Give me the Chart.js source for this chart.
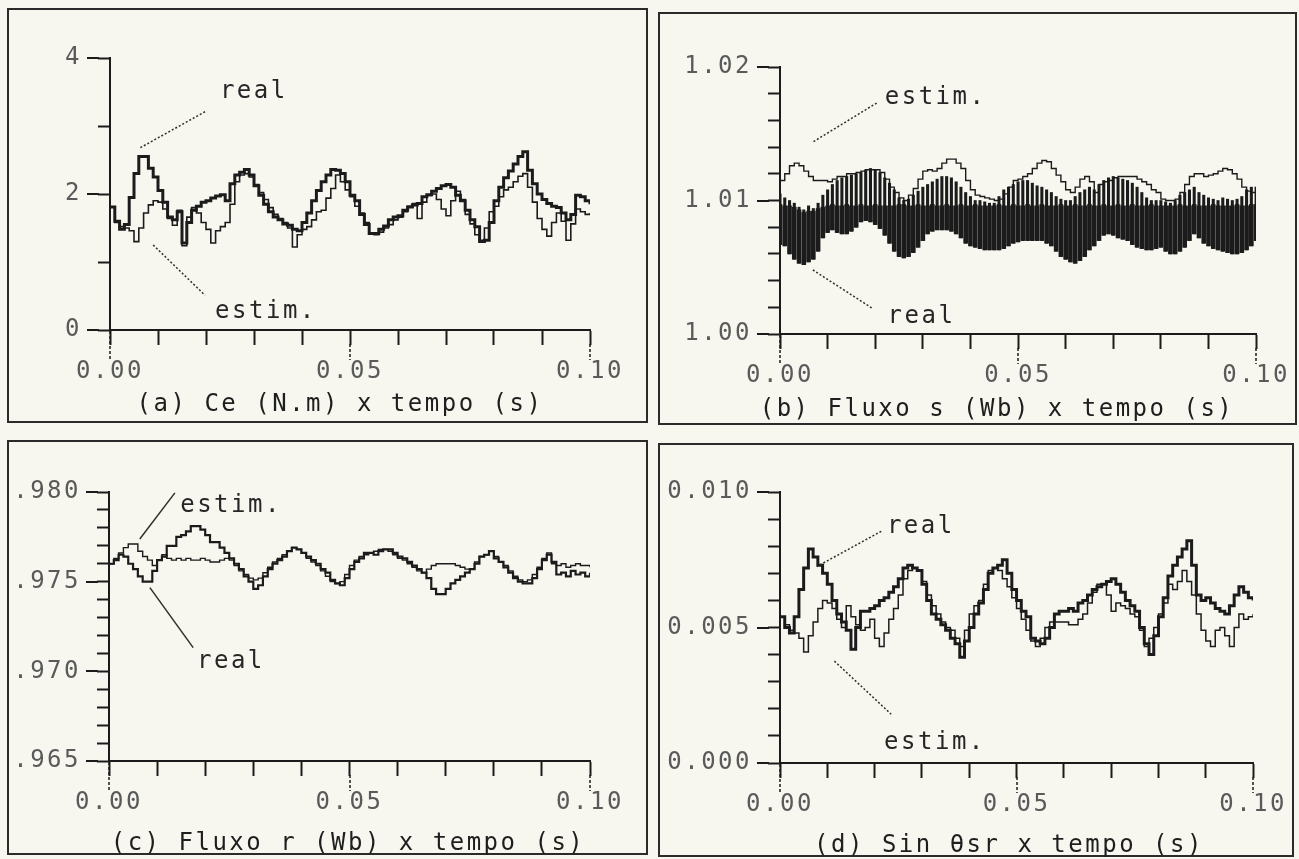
<!DOCTYPE html>
<html lang="pt">
<head>
<meta charset="utf-8">
<title>Ce, Fluxo s, Fluxo r e Sin θsr x tempo</title>
<script src="https://cdn.jsdelivr.net/npm/chart.js@4.4.1/dist/chart.umd.min.js"></script>
<style>
  html, body { margin: 0; padding: 0; }
  body { width: 1299px; height: 859px; background: #f7f7f0; position: relative; overflow: hidden; }
  .moldura { position: absolute; box-sizing: border-box; border: 2px solid #2b2b2b; }
  canvas { position: absolute; }
  .legenda { position: absolute; width: 640px; margin-left: -320px; text-align: center;
             font: 24px 'DejaVu Sans Mono', 'Liberation Mono', monospace; letter-spacing: 2.5px;
             color: #1e1e1e; white-space: pre; line-height: 28px; }
</style>
</head>
<body>
<div class="moldura" style="left:7px;top:8px;width:641px;height:415px"></div>
<div class="moldura" style="left:658px;top:12px;width:639px;height:413px"></div>
<div class="moldura" style="left:7px;top:440px;width:641px;height:415px"></div>
<div class="moldura" style="left:658px;top:443px;width:636px;height:414px"></div>

<canvas id="gCe" width="641" height="415" style="left:7px;top:8px"></canvas>
<canvas id="gFluxoS" width="639" height="413" style="left:658px;top:12px"></canvas>
<canvas id="gFluxoR" width="641" height="415" style="left:7px;top:440px"></canvas>
<canvas id="gSeno" width="636" height="414" style="left:658px;top:443px"></canvas>

<div class="legenda" style="left:340px;top:389px">(a) Ce (N.m) x tempo (s)</div>
<div class="legenda" style="left:997px;top:394px">(b) Fluxo s (Wb) x tempo (s)</div>
<div class="legenda" style="left:348px;top:828px">(c) Fluxo r (Wb) x tempo (s)</div>
<div class="legenda" style="left:1009px;top:830px">(d) Sin θsr x tempo (s)</div>

<script>
// ---- tempo (ms), one sample per millisecond ----
const tempoMs = [0,1,2,3,4,5,6,7,8,9,10,11,12,13,14,15,16,17,18,19,20,21,22,23,24,25,26,27,28,29,
  30,31,32,33,34,35,36,37,38,39,40,41,42,43,44,45,46,47,48,49,50,51,52,53,54,55,56,57,58,59,
  60,61,62,63,64,65,66,67,68,69,70,71,72,73,74,75,76,77,78,79,80,81,82,83,84,85,86,87,88,89,
  90,91,92,93,94,95,96,97,98,99,100];

// ---- (a) Ce (N.m) ----
const ceReal = [1.81,1.60,1.48,1.55,1.95,2.30,2.55,2.55,2.38,2.25,
  2.05,1.88,1.66,1.62,1.74,1.28,1.58,1.76,1.82,1.88,
  1.90,1.94,1.97,1.99,1.90,2.15,2.28,2.32,2.36,2.28,
  2.12,1.98,1.85,1.74,1.66,1.62,1.56,1.54,1.48,1.46,
  1.58,1.72,1.90,2.05,2.18,2.28,2.36,2.35,2.30,2.18,
  1.98,1.90,1.70,1.55,1.42,1.42,1.48,1.53,1.62,1.66,
  1.68,1.76,1.81,1.84,1.86,1.96,1.99,2.04,2.08,2.12,
  2.14,2.10,1.98,1.90,1.76,1.62,1.52,1.30,1.32,1.58,
  1.90,2.10,2.24,2.34,2.44,2.55,2.62,2.35,2.15,2.00,
  1.92,1.86,1.82,1.80,1.72,1.62,1.70,1.98,1.96,1.90,
  1.85];
const ceEstim = [1.81,1.58,1.52,1.50,1.46,1.30,1.50,1.72,1.84,1.90,
  1.88,1.78,1.64,1.54,1.76,1.24,1.66,1.80,1.72,1.58,
  1.48,1.28,1.46,1.52,1.58,1.85,2.18,2.28,2.30,2.25,
  2.14,2.02,1.92,1.80,1.70,1.64,1.58,1.50,1.22,1.40,
  1.48,1.52,1.62,1.74,1.76,1.94,2.08,2.28,2.18,2.06,
  1.96,1.82,1.72,1.58,1.42,1.40,1.44,1.50,1.55,1.62,
  1.66,1.74,1.82,1.86,1.64,1.88,1.98,2.00,1.92,1.78,
  1.68,1.90,2.04,1.92,1.70,1.56,1.40,1.32,1.50,1.74,
  1.82,1.96,2.06,2.10,2.18,2.26,2.30,2.10,1.88,1.64,
  1.48,1.38,1.58,1.72,1.60,1.32,1.56,1.78,1.74,1.70,
  1.72];
const ceTickVals = [0, 2, 4];
const ceTickTxt = ['0', '2', '4'];

// ---- (b) Fluxo s (Wb) ----
const fluxoSEstim = [1.0115,1.0120,1.0126,1.0128,1.0126,1.0122,1.0118,1.0115,1.0115,1.0115,
  1.0114,1.0116,1.0118,1.0118,1.0120,1.0120,1.0121,1.0122,1.0123,1.0123,
  1.0123,1.0121,1.0116,1.0110,1.0106,1.0102,1.0100,1.0104,1.0109,1.0116,
  1.0122,1.0123,1.0122,1.0124,1.0128,1.0131,1.0131,1.0128,1.0124,1.0115,
  1.0108,1.0104,1.0103,1.0102,1.0101,1.0100,1.0101,1.0105,1.0110,1.0115,
  1.0116,1.0118,1.0120,1.0124,1.0128,1.0130,1.0129,1.0124,1.0119,1.0114,
  1.0108,1.0106,1.0110,1.0116,1.0118,1.0114,1.0106,1.0112,1.0114,1.0115,
  1.0117,1.0118,1.0118,1.0118,1.0118,1.0116,1.0114,1.0112,1.0108,1.0106,
  1.0101,1.0100,1.0100,1.0101,1.0106,1.0112,1.0118,1.0120,1.0120,1.0118,
  1.0119,1.0120,1.0122,1.0124,1.0123,1.0120,1.0116,1.0110,1.0107,1.0106,
  1.0110];
// the real flux ripples fast: upper and lower edges of its band, and the top of its dense core
const fluxoSRealSup = [1.0105,1.0102,1.0100,1.0098,1.0095,1.0093,1.0096,1.0094,1.0098,1.0104,
  1.0108,1.0112,1.0115,1.0117,1.0118,1.0119,1.0120,1.0121,1.0123,1.0124,
  1.0123,1.0121,1.0117,1.0113,1.0108,1.0102,1.0100,1.0101,1.0104,1.0107,
  1.0110,1.0112,1.0114,1.0116,1.0118,1.0118,1.0117,1.0114,1.0110,1.0106,
  1.0103,1.0100,1.0100,1.0099,1.0098,1.0098,1.0103,1.0108,1.0110,1.0112,
  1.0114,1.0115,1.0115,1.0113,1.0111,1.0110,1.0108,1.0106,1.0103,1.0101,
  1.0100,1.0100,1.0103,1.0106,1.0108,1.0110,1.0108,1.0112,1.0115,1.0117,
  1.0118,1.0117,1.0116,1.0115,1.0113,1.0110,1.0106,1.0102,1.0100,1.0100,
  1.0100,1.0099,1.0098,1.0100,1.0104,1.0106,1.0108,1.0110,1.0106,1.0104,
  1.0102,1.0101,1.0100,1.0102,1.0101,1.0100,1.0101,1.0103,1.0108,1.0110,
  1.0110];
const fluxoSRealInf = [1.0067,1.0066,1.0060,1.0056,1.0053,1.0052,1.0054,1.0056,1.0062,1.0072,
  1.0076,1.0078,1.0076,1.0075,1.0075,1.0077,1.0080,1.0084,1.0085,1.0084,
  1.0082,1.0079,1.0074,1.0068,1.0062,1.0058,1.0057,1.0058,1.0061,1.0065,
  1.0070,1.0075,1.0077,1.0078,1.0078,1.0078,1.0077,1.0075,1.0072,1.0068,
  1.0066,1.0065,1.0064,1.0063,1.0063,1.0063,1.0063,1.0064,1.0066,1.0068,
  1.0069,1.0070,1.0070,1.0070,1.0070,1.0070,1.0068,1.0066,1.0062,1.0058,
  1.0056,1.0054,1.0053,1.0055,1.0058,1.0063,1.0066,1.0070,1.0074,1.0075,
  1.0074,1.0072,1.0071,1.0070,1.0067,1.0065,1.0064,1.0063,1.0063,1.0064,
  1.0065,1.0062,1.0060,1.0060,1.0062,1.0065,1.0070,1.0075,1.0072,1.0068,
  1.0066,1.0064,1.0063,1.0062,1.0061,1.0060,1.0060,1.0061,1.0063,1.0066,
  1.0070];
const fluxoSRealNucleo = [1.0097,1.0096,1.0096,1.0095,1.0093,1.0091,1.0092,1.0092,1.0094,1.0095,
  1.0096,1.0097,1.0096,1.0096,1.0097,1.0096,1.0096,1.0097,1.0096,1.0096,
  1.0097,1.0096,1.0096,1.0096,1.0096,1.0097,1.0097,1.0096,1.0096,1.0097,
  1.0096,1.0096,1.0097,1.0096,1.0096,1.0097,1.0096,1.0096,1.0097,1.0096,
  1.0096,1.0097,1.0096,1.0096,1.0096,1.0096,1.0097,1.0096,1.0096,1.0097,
  1.0096,1.0096,1.0097,1.0096,1.0096,1.0097,1.0096,1.0096,1.0096,1.0097,
  1.0096,1.0096,1.0097,1.0096,1.0096,1.0097,1.0096,1.0096,1.0097,1.0096,
  1.0096,1.0097,1.0096,1.0096,1.0097,1.0096,1.0096,1.0096,1.0097,1.0096,
  1.0096,1.0096,1.0096,1.0096,1.0097,1.0096,1.0096,1.0097,1.0096,1.0096,
  1.0096,1.0097,1.0096,1.0096,1.0096,1.0096,1.0097,1.0096,1.0096,1.0097,
  1.0097];
const fluxoSTickVals = [1.00, 1.01, 1.02];
const fluxoSTickTxt = ['1.00', '1.01', '1.02'];

// ---- (c) Fluxo r (Wb) ----
const fluxoRReal = [0.9760,0.9762,0.9765,0.9764,0.9760,0.9757,0.9753,0.9750,0.9750,0.9756,
  0.9762,0.9764,0.9770,0.9770,0.9775,0.9776,0.9778,0.9781,0.9781,0.9779,
  0.9776,0.9772,0.9772,0.9769,0.9766,0.9763,0.9760,0.9757,0.9753,0.9750,
  0.9746,0.9748,0.9753,0.9757,0.9760,0.9762,0.9764,0.9767,0.9769,0.9768,
  0.9766,0.9764,0.9762,0.9760,0.9757,0.9755,0.9751,0.9749,0.9748,0.9752,
  0.9757,0.9761,0.9763,0.9766,0.9766,0.9765,0.9767,0.9768,0.9768,0.9766,
  0.9764,0.9763,0.9761,0.9759,0.9757,0.9755,0.9752,0.9746,0.9743,0.9743,
  0.9746,0.9749,0.9751,0.9753,0.9755,0.9757,0.9760,0.9764,0.9765,0.9767,
  0.9763,0.9761,0.9758,0.9755,0.9752,0.9750,0.9749,0.9749,0.9752,0.9757,
  0.9762,0.9765,0.9761,0.9754,0.9755,0.9753,0.9756,0.9754,0.9755,0.9753,
  0.9755];
const fluxoREstim = [0.9760,0.9763,0.9766,0.9769,0.9771,0.9771,0.9767,0.9764,0.9762,0.9759,
  0.9762,0.9765,0.9763,0.9762,0.9763,0.9762,0.9763,0.9762,0.9762,0.9763,
  0.9762,0.9761,0.9761,0.9762,0.9763,0.9762,0.9759,0.9756,0.9754,0.9752,
  0.9751,0.9752,0.9755,0.9758,0.9761,0.9763,0.9765,0.9767,0.9769,0.9768,
  0.9766,0.9763,0.9761,0.9759,0.9756,0.9753,0.9750,0.9749,0.9750,0.9754,
  0.9759,0.9762,0.9764,0.9765,0.9766,0.9767,0.9768,0.9768,0.9767,0.9765,
  0.9763,0.9762,0.9760,0.9758,0.9756,0.9755,0.9757,0.9759,0.9760,0.9760,
  0.9760,0.9760,0.9759,0.9758,0.9757,0.9757,0.9761,0.9764,0.9765,0.9767,
  0.9764,0.9761,0.9759,0.9756,0.9753,0.9751,0.9750,0.9751,0.9754,0.9758,
  0.9763,0.9766,0.9760,0.9759,0.9760,0.9758,0.9759,0.9760,0.9759,0.9759,
  0.9758];
const fluxoRTickVals = [0.965, 0.970, 0.975, 0.980];
const fluxoRTickTxt = ['.965', '.970', '.975', '.980'];

// ---- (d) Sin θsr ----
const senoReal = [0.0054,0.0050,0.0048,0.0054,0.0064,0.0072,0.0079,0.0076,0.0073,0.0070,
  0.0066,0.0060,0.0055,0.0052,0.0049,0.0042,0.0050,0.0056,0.0056,0.0057,
  0.0058,0.0060,0.0061,0.0063,0.0065,0.0068,0.0072,0.0073,0.0072,0.0071,
  0.0066,0.0060,0.0055,0.0053,0.0051,0.0049,0.0046,0.0044,0.0039,0.0045,
  0.0050,0.0055,0.0059,0.0064,0.0070,0.0072,0.0073,0.0075,0.0070,0.0064,
  0.0060,0.0056,0.0054,0.0046,0.0045,0.0044,0.0046,0.0050,0.0055,0.0056,
  0.0056,0.0057,0.0056,0.0059,0.0060,0.0062,0.0064,0.0065,0.0066,0.0067,
  0.0068,0.0066,0.0063,0.0060,0.0058,0.0056,0.0050,0.0044,0.0040,0.0047,
  0.0054,0.0061,0.0069,0.0073,0.0076,0.0079,0.0082,0.0073,0.0062,0.0060,
  0.0061,0.0059,0.0057,0.0056,0.0055,0.0058,0.0062,0.0065,0.0063,0.0061,
  0.0060];
const senoEstim = [0.0054,0.0051,0.0049,0.0048,0.0046,0.0041,0.0047,0.0052,0.0057,0.0060,
  0.0059,0.0057,0.0053,0.0050,0.0058,0.0054,0.0051,0.0049,0.0050,0.0053,
  0.0046,0.0043,0.0048,0.0053,0.0057,0.0062,0.0068,0.0071,0.0072,0.0071,
  0.0067,0.0062,0.0058,0.0055,0.0052,0.0050,0.0049,0.0046,0.0043,0.0049,
  0.0055,0.0058,0.0060,0.0066,0.0071,0.0072,0.0071,0.0068,0.0065,0.0061,
  0.0057,0.0053,0.0049,0.0045,0.0043,0.0046,0.0050,0.0052,0.0052,0.0052,
  0.0052,0.0051,0.0051,0.0053,0.0055,0.0059,0.0063,0.0066,0.0066,0.0062,
  0.0056,0.0059,0.0058,0.0057,0.0055,0.0054,0.0049,0.0043,0.0046,0.0050,
  0.0055,0.0059,0.0066,0.0064,0.0067,0.0071,0.0067,0.0062,0.0055,0.0049,
  0.0045,0.0043,0.0049,0.0050,0.0047,0.0043,0.0050,0.0055,0.0053,0.0054,
  0.0055];
const senoTickVals = [0.000, 0.005, 0.010];
const senoTickTxt = ['0.000', '0.005', '0.010'];

// ---- time axis labels ----
const tempoTickVals = [0.00, 0.05, 0.10];
const tempoTickTxt = ['0.00', '0.05', '0.10'];

// ---------------------------------------------------------------
const INK = '#1b1b1b';
const FONT = "'DejaVu Sans Mono', 'Liberation Mono', monospace";
const SPACING = '2.5px';

const pts = arr => tempoMs.map((ms, i) => ({ x: ms / 1000, y: arr[i] }));
const faixa = (lo, hi) => tempoMs.map((ms, i) => ({ x: ms / 1000, y: [lo[i], hi[i]] }));

function rotulo(vals, txt, span) {
  return v => {
    const i = vals.findIndex(u => Math.abs(u - v) < span * 1e-6);
    return i >= 0 ? txt[i] : '';
  };
}

// long ticks, axis continuation and the "real"/"estim." call-outs
function extras(p) {
  return {
    id: 'extras',
    beforeDraw(chart) { chart.ctx.letterSpacing = SPACING; },
    afterDraw(chart) {
      const { ctx, chartArea: a, scales: { x, y } } = chart;
      ctx.save();
      ctx.strokeStyle = INK;
      ctx.lineWidth = 2;
      p.yVals.forEach(v => {
        const py = Math.round(y.getPixelForValue(v));
        ctx.beginPath(); ctx.moveTo(a.left - 23, py); ctx.lineTo(a.left - 11, py); ctx.stroke();
      });
      ctx.lineWidth = 1.5;
      ctx.setLineDash([3, 2]);
      tempoTickVals.forEach(t => {
        const px = Math.round(x.getPixelForValue(t));
        ctx.beginPath(); ctx.moveTo(px, a.bottom + (t === 0 ? 1 : 14)); ctx.lineTo(px, a.bottom + 30); ctx.stroke();
      });
      ctx.setLineDash(p.dash);
      ctx.strokeStyle = '#2e2e2e';
      ctx.lineWidth = 1.5;
      ctx.font = '24px ' + FONT;
      ctx.fillStyle = '#262626';
      ctx.textAlign = 'left';
      ctx.textBaseline = 'middle';
      p.notas.forEach(n => {
        ctx.beginPath();
        ctx.moveTo(x.getPixelForValue(n.de[0]), y.getPixelForValue(n.de[1]));
        ctx.lineTo(x.getPixelForValue(n.ate[0]), y.getPixelForValue(n.ate[1]));
        ctx.stroke();
        ctx.fillText(n.texto, x.getPixelForValue(n.em[0]), y.getPixelForValue(n.em[1]));
      });
      ctx.restore();
    }
  };
}

function painel(p) {
  const span = p.yMax - p.yMin;
  new Chart(document.getElementById(p.canvas), {
    type: 'line',
    data: { datasets: p.datasets },
    options: {
      responsive: false,
      animation: false,
      devicePixelRatio: 1,
      events: [],
      layout: { padding: { left: 0, top: p.top, right: p.right, bottom: 0 } },
      plugins: { legend: { display: false }, tooltip: { enabled: false }, title: { display: false } },
      elements: { point: { radius: 0 }, line: { tension: 0, borderColor: INK } },
      scales: {
        x: {
          type: 'linear', min: 0, max: 0.1, offset: false,
          afterFit: s => { s.height = p.xh; },
          border: { display: true, color: INK, width: 2 },
          grid: { display: true, offset: false, drawOnChartArea: false, drawTicks: true,
                  tickLength: 15, tickColor: INK, tickWidth: 2 },
          ticks: { stepSize: 0.01, autoSkip: false, maxRotation: 0, minRotation: 0, padding: 12,
                   color: '#5a5a5a', font: { family: FONT, size: 24 },
                   callback: rotulo(tempoTickVals, tempoTickTxt, 0.1) }
        },
        y: {
          type: 'linear', min: p.yMin, max: p.yMax,
          afterFit: s => { s.width = p.left; },
          border: { display: true, color: INK, width: 2 },
          grid: { display: true, drawOnChartArea: false, drawTicks: true,
                  tickLength: 12, tickColor: INK, tickWidth: 2 },
          ticks: { stepSize: p.yStep, autoSkip: false, padding: 16,
                   color: '#5a5a5a', font: { family: FONT, size: 24 },
                   callback: rotulo(p.yVals, p.yTxt, span) }
        }
      }
    },
    plugins: [extras(p)]
  });
}

const linha = (label, arr, w) => ({ type: 'line', label, data: pts(arr), borderColor: INK,
  borderWidth: w, stepped: true, pointRadius: 0, fill: false });

painel({
  canvas: 'gCe', left: 103, top: 50, right: 58, xh: 93,
  yMin: 0, yMax: 4, yStep: 1, yVals: ceTickVals, yTxt: ceTickTxt, dash: [2, 2],
  datasets: [linha('real', ceReal, 3.0), linha('estim.', ceEstim, 1.6)],
  notas: [
    { texto: 'real', em: [0.0229, 3.50], de: [0.0198, 3.21], ate: [0.0063, 2.68] },
    { texto: 'estim.', em: [0.0219, 0.27], de: [0.0090, 1.25], ate: [0.0198, 0.51] }
  ]
});

painel({
  canvas: 'gFluxoS', left: 122, top: 55, right: 40, xh: 91,
  yMin: 1.00, yMax: 1.02, yStep: 0.002, yVals: fluxoSTickVals, yTxt: fluxoSTickTxt, dash: [2, 2],
  datasets: [
    linha('estim.', fluxoSEstim, 1.4),
    { type: 'bar', label: 'real', data: faixa(fluxoSRealInf, fluxoSRealNucleo), backgroundColor: INK,
      borderWidth: 0, barThickness: 4, grouped: false },
    { type: 'bar', label: 'real (ripple)', data: faixa(fluxoSRealInf, fluxoSRealSup), backgroundColor: INK,
      borderWidth: 0, barThickness: 2.4, grouped: false }
  ],
  notas: [
    { texto: 'estim.', em: [0.0220, 1.01768], de: [0.0203, 1.0173], ate: [0.0069, 1.01438] },
    { texto: 'real', em: [0.0226, 1.00127], de: [0.0069, 1.0048], ate: [0.0195, 1.0019] }
  ]
});

painel({
  canvas: 'gFluxoR', left: 102, top: 52, right: 58, xh: 94,
  yMin: 0.965, yMax: 0.980, yStep: 0.001, yVals: fluxoRTickVals, yTxt: fluxoRTickTxt, dash: [],
  datasets: [linha('real', fluxoRReal, 2.2), linha('estim.', fluxoREstim, 1.4)],
  notas: [
    { texto: 'estim.', em: [0.0148, 0.97924], de: [0.0137, 0.97995], ate: [0.0064, 0.97738] },
    { texto: 'real', em: [0.0183, 0.97054], de: [0.0085, 0.97467], ate: [0.0175, 0.97132] }
  ]
});

painel({
  canvas: 'gSeno', left: 122, top: 49, right: 37, xh: 94,
  yMin: 0, yMax: 0.010, yStep: 0.001, yVals: senoTickVals, yTxt: senoTickTxt, dash: [2, 2],
  datasets: [linha('real', senoReal, 3.0), linha('estim.', senoEstim, 1.5)],
  notas: [
    { texto: 'real', em: [0.0226, 0.00873], de: [0.0214, 0.00855], ate: [0.0078, 0.00725] },
    { texto: 'estim.', em: [0.0220, 0.00075], de: [0.0115, 0.00376], ate: [0.0235, 0.0018] }
  ]
});
</script>
</body>
</html>
